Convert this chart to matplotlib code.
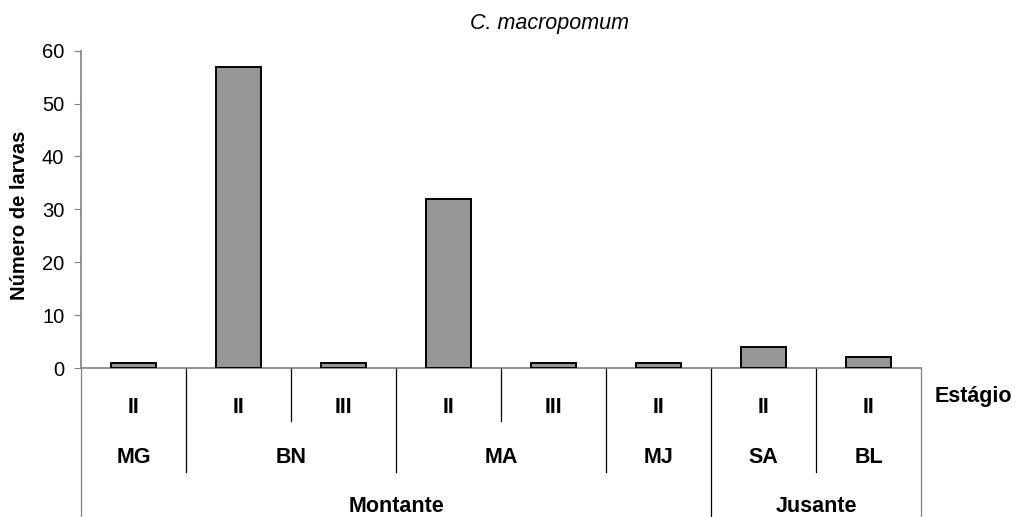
import numpy as np
import matplotlib
matplotlib.use("Agg")
import matplotlib.pyplot as plt
from matplotlib.transforms import blended_transform_factory

plt.rcParams['font.family'] = ['Liberation Sans', 'DejaVu Sans']

# larvae counts per stage, grouped by site and by river section
stages = ["II", "II", "III", "II", "III", "II", "II", "II"]
larvae = [1, 57, 1, 32, 1, 1, 4, 2]
sites = ["MG", "BN", "MA", "MJ", "SA", "BL"]
site_sizes = [1, 2, 2, 1, 1, 1]
regions = ["Montante", "Jusante"]
region_sizes = [6, 2]

W, H = 1023, 517
fig = plt.figure(figsize=(W / 100, H / 100), dpi=100)
ax = fig.add_axes([81 / W, 1 - 368 / H, 840 / W, (368 - 50.7) / H])

x = np.arange(len(larvae))
ax.bar(x, larvae, width=0.42, color="#969696", edgecolor="black", linewidth=1.4, zorder=3)
ax.set_xlim(-0.5, len(larvae) - 0.5)
ax.set_ylim(0, 60)
ax.set_yticks(range(0, 61, 10))
ax.set_xticks([])
ax.tick_params(axis="y", direction="out", length=5, color="#808080", labelsize=14.5, pad=7)
for side in ("top", "right"):
    ax.spines[side].set_visible(False)
for side in ("left", "bottom"):
    ax.spines[side].set_color("#808080")
    ax.spines[side].set_linewidth(1.2)

fig.text(20 / W, 1 - 215 / H, "Número de larvas", rotation=90, ha="center", va="center",
         fontsize=14.5, fontweight="bold")
fig.text(550 / W, 1 - 23 / H, "C. macropomum", ha="center", va="center",
         fontsize=15.5, style="italic")

# category table under the axis
tr = blended_transform_factory(ax.transData, fig.transFigure)
y0 = 1 - 368 / H
row1 = 1 - 421 / H
row2 = 1 - 471.7 / H


def boundaries(sizes):
    return set(np.cumsum([0] + list(sizes)))


site_edges = boundaries(site_sizes)
region_edges = boundaries(region_sizes)
for i in range(len(larvae) + 1):
    if i in region_edges:
        ybot = 0
    elif i in site_edges:
        ybot = row2
    else:
        ybot = row1
    color = "#808080" if i in (0, len(larvae)) else "black"
    ax.plot([i - 0.5, i - 0.5], [y0, ybot], transform=tr, color=color,
            linewidth=0.9, clip_on=False)

label_kw = dict(transform=tr, ha="center", va="baseline", fontsize=15.5, fontweight="bold")
for i, s in enumerate(stages):
    ax.text(i, 1 - 413 / H, s, **label_kw)

start = 0
for name, n in zip(sites, site_sizes):
    ax.text(start + (n - 1) / 2, 1 - 463 / H, name, **label_kw)
    start += n

start = 0
for name, n in zip(regions, region_sizes):
    ax.text(start + (n - 1) / 2, 1 - 512 / H, name, **label_kw)
    start += n

fig.text(935 / W, 1 - 402 / H, "Estágio", ha="left", va="baseline",
         fontsize=15.5, fontweight="bold")

fig.savefig("out.png", dpi=100)
